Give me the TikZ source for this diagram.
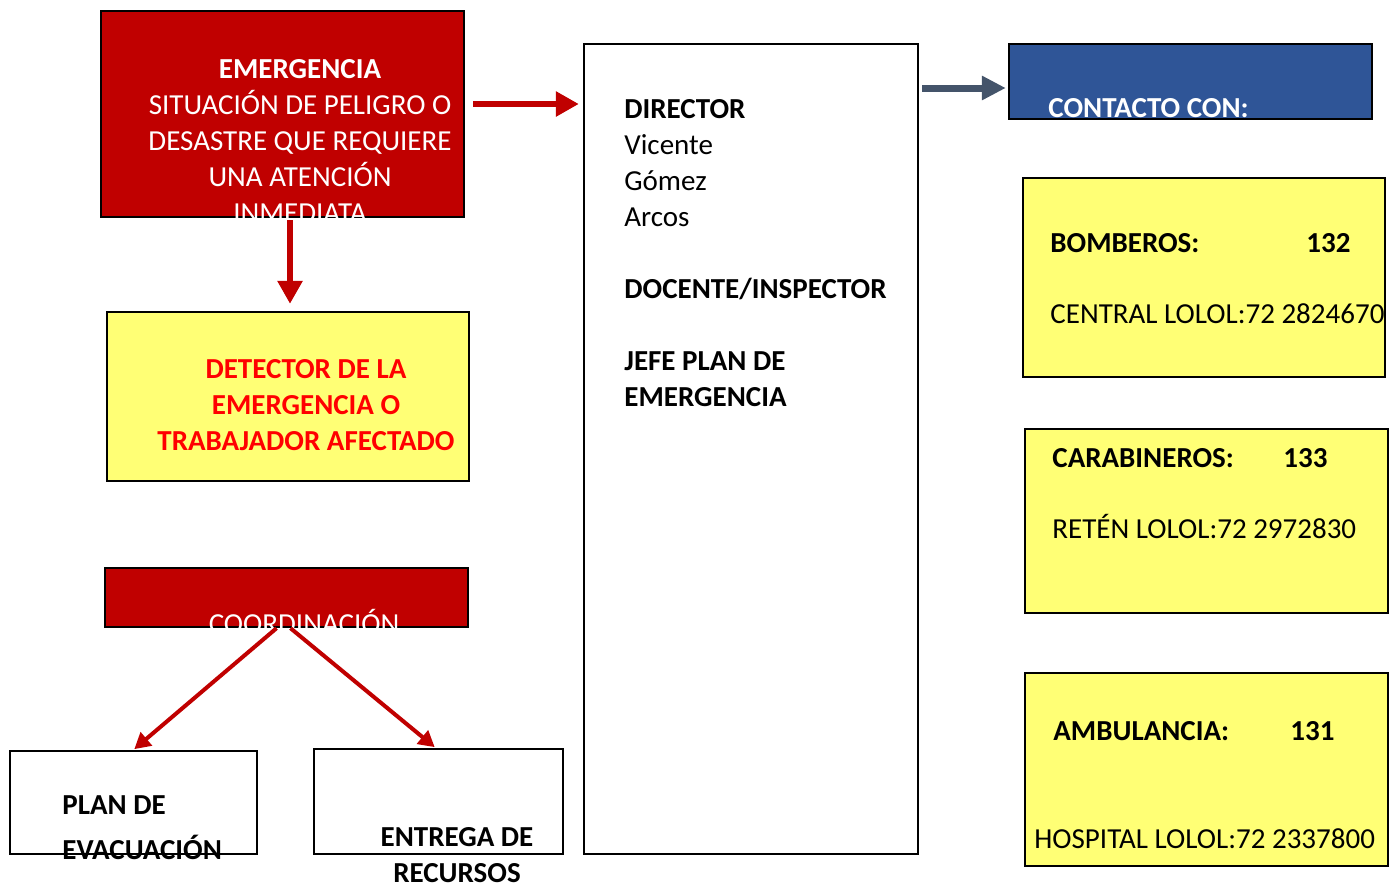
\documentclass[tikz,border=0pt]{standalone}
\usepackage{fontspec}
\setmainfont{Carlito}
\usetikzlibrary{arrows.meta,calc}

\definecolor{boxred}{HTML}{C00000}
\definecolor{boxyellow}{HTML}{FFFF75}
\definecolor{boxblue}{HTML}{2F5597}
\definecolor{arrowgrey}{HTML}{44546A}

\tikzstyle{box} = [draw=black, line width=1.2pt, rectangle, inner sep=0pt]
\tikzstyle{redbox} = [box, fill=boxred]
\tikzstyle{yellowbox} = [box, fill=boxyellow]
\tikzstyle{bluebox} = [box, fill=boxblue]
\tikzstyle{whitebox} = [box, fill=white]
\tikzstyle{txt} = [inner sep=0pt, font=\fontsize{14.5}{18}\selectfont]
\tikzstyle{boldtxt} = [txt, font=\fontsize{14.5}{18}\selectfont\bfseries]
\tikzstyle{redline} = [draw=boxred, line width=3pt, -{Triangle[length=11.5pt,width=12pt]}]
\tikzstyle{thinredline} = [draw=boxred, line width=2pt, -{Triangle[length=8pt,width=8.5pt]}]
\tikzstyle{greyline} = [draw=arrowgrey, line width=3.5pt, -{Triangle[length=12pt,width=11.5pt]}]

\begin{document}
\begin{tikzpicture}[x=0.5pt,y=-0.5pt]
		\useasboundingbox (0,0) rectangle (1392,884);
		
		%boxes
		\node[redbox, minimum width=181.5pt, minimum height=103pt] (emerg) at (282.5,114) {};
		\node[yellowbox, minimum width=181pt, minimum height=84.5pt] (detector) at (288,396.5) {};
		\node[redbox, minimum width=181.5pt, minimum height=29.5pt] (coord) at (286.5,597.5) {};
		\node[whitebox, minimum width=123.5pt, minimum height=51.5pt] (plan) at (133.5,802.5) {};
		\node[whitebox, minimum width=124.5pt, minimum height=52.5pt] (entrega) at (438.5,801.5) {};
		\node[whitebox, minimum width=167pt, minimum height=405pt] (director) at (751,449) {};
		\node[bluebox, minimum width=181.5pt, minimum height=37.5pt] (contact) at (1190.5,81.5) {};
		\node[yellowbox, minimum width=181pt, minimum height=99.5pt] (bomb) at (1204,277.5) {};
		\node[yellowbox, minimum width=181.5pt, minimum height=92pt] (carab) at (1206.5,521) {};
		\node[yellowbox, minimum width=181.5pt, minimum height=96.5pt] (ambul) at (1206.5,769.5) {};
		
		%texts
		\node[txt, text=white, anchor=north, align=center] (emergtxt) at (300,59)
			{\textbf{EMERGENCIA}\\SITUACIÓN DE PELIGRO O\\DESASTRE QUE REQUIERE\\UNA ATENCIÓN\\INMEDIATA};
		\node[boldtxt, text=red, anchor=north, align=center] (dettxt) at (306,359)
			{DETECTOR DE LA\\EMERGENCIA O\\TRABAJADOR AFECTADO};
		\node[txt, text=white, anchor=base] (coordtxt) at (304,633) {COORDINACIÓN};
		\node[boldtxt, anchor=north west, align=left] (plantxt) at (62,795)
			{PLAN DE\\[4.5pt]EVACUACIÓN};
		\node[boldtxt, anchor=north, align=center] (entrtxt) at (457,827)
			{ENTREGA DE\\RECURSOS};
		\node[txt, anchor=north west, align=left] (dirtxt) at (624,99)
			{\textbf{DIRECTOR}\\Vicente\\Gómez\\Arcos\\[18pt]\textbf{DOCENTE/INSPECTOR}\\[18pt]\textbf{JEFE PLAN DE}\\\textbf{EMERGENCIA}};
		\node[boldtxt, text=white, anchor=base west] (contxt) at (1048,117) {CONTACTO CON:};
		\node[txt, anchor=base west] (bombtxt) at (1050,252) {\makebox[128pt][l]{\textbf{BOMBEROS:}}\textbf{132}};
		\node[txt, anchor=base west] (bombtel) at (1050,323) {CENTRAL LOLOL:72 2824670};
		\node[txt, anchor=base west] (carabtxt) at (1052,467) {\makebox[115.5pt][l]{\textbf{CARABINEROS:}}\textbf{133}};
		\node[txt, anchor=base west] (carabtel) at (1052,538) {RETÉN LOLOL:72 2972830};
		\node[txt, anchor=base west] (ambtxt) at (1053,740) {\makebox[118.5pt][l]{\textbf{AMBULANCIA:}}\textbf{131}};
		\node[txt, anchor=base west] (ambtel) at (1034,848) {HOSPITAL LOLOL:72 2337800};
		
		%arrows
		\coordinate (rin) at ([yshift=5pt]emerg.east);
		\draw[redline, shorten <=4pt, shorten >=2pt] (rin) -- (rin -| director.west);
		\coordinate (din) at ([xshift=3.75pt]emerg.south);
		\draw[redline, shorten <=1pt, shorten >=3.5pt] (din) -- (din |- detector.north);
		\draw[thinredline, shorten >=0.5pt] ([xshift=-5pt]coord.south) -- (plan.north);
		\draw[thinredline, shorten >=0.5pt] ([xshift=2pt]coord.south) -- ([xshift=-1.5pt]entrega.north);
		\coordinate (cin) at ([yshift=-3.25pt]contact.west);
		\draw[greyline, shorten <=1.5pt, shorten >=1pt] (director.east |- cin) -- (cin);
		\end{tikzpicture}
\end{document}
